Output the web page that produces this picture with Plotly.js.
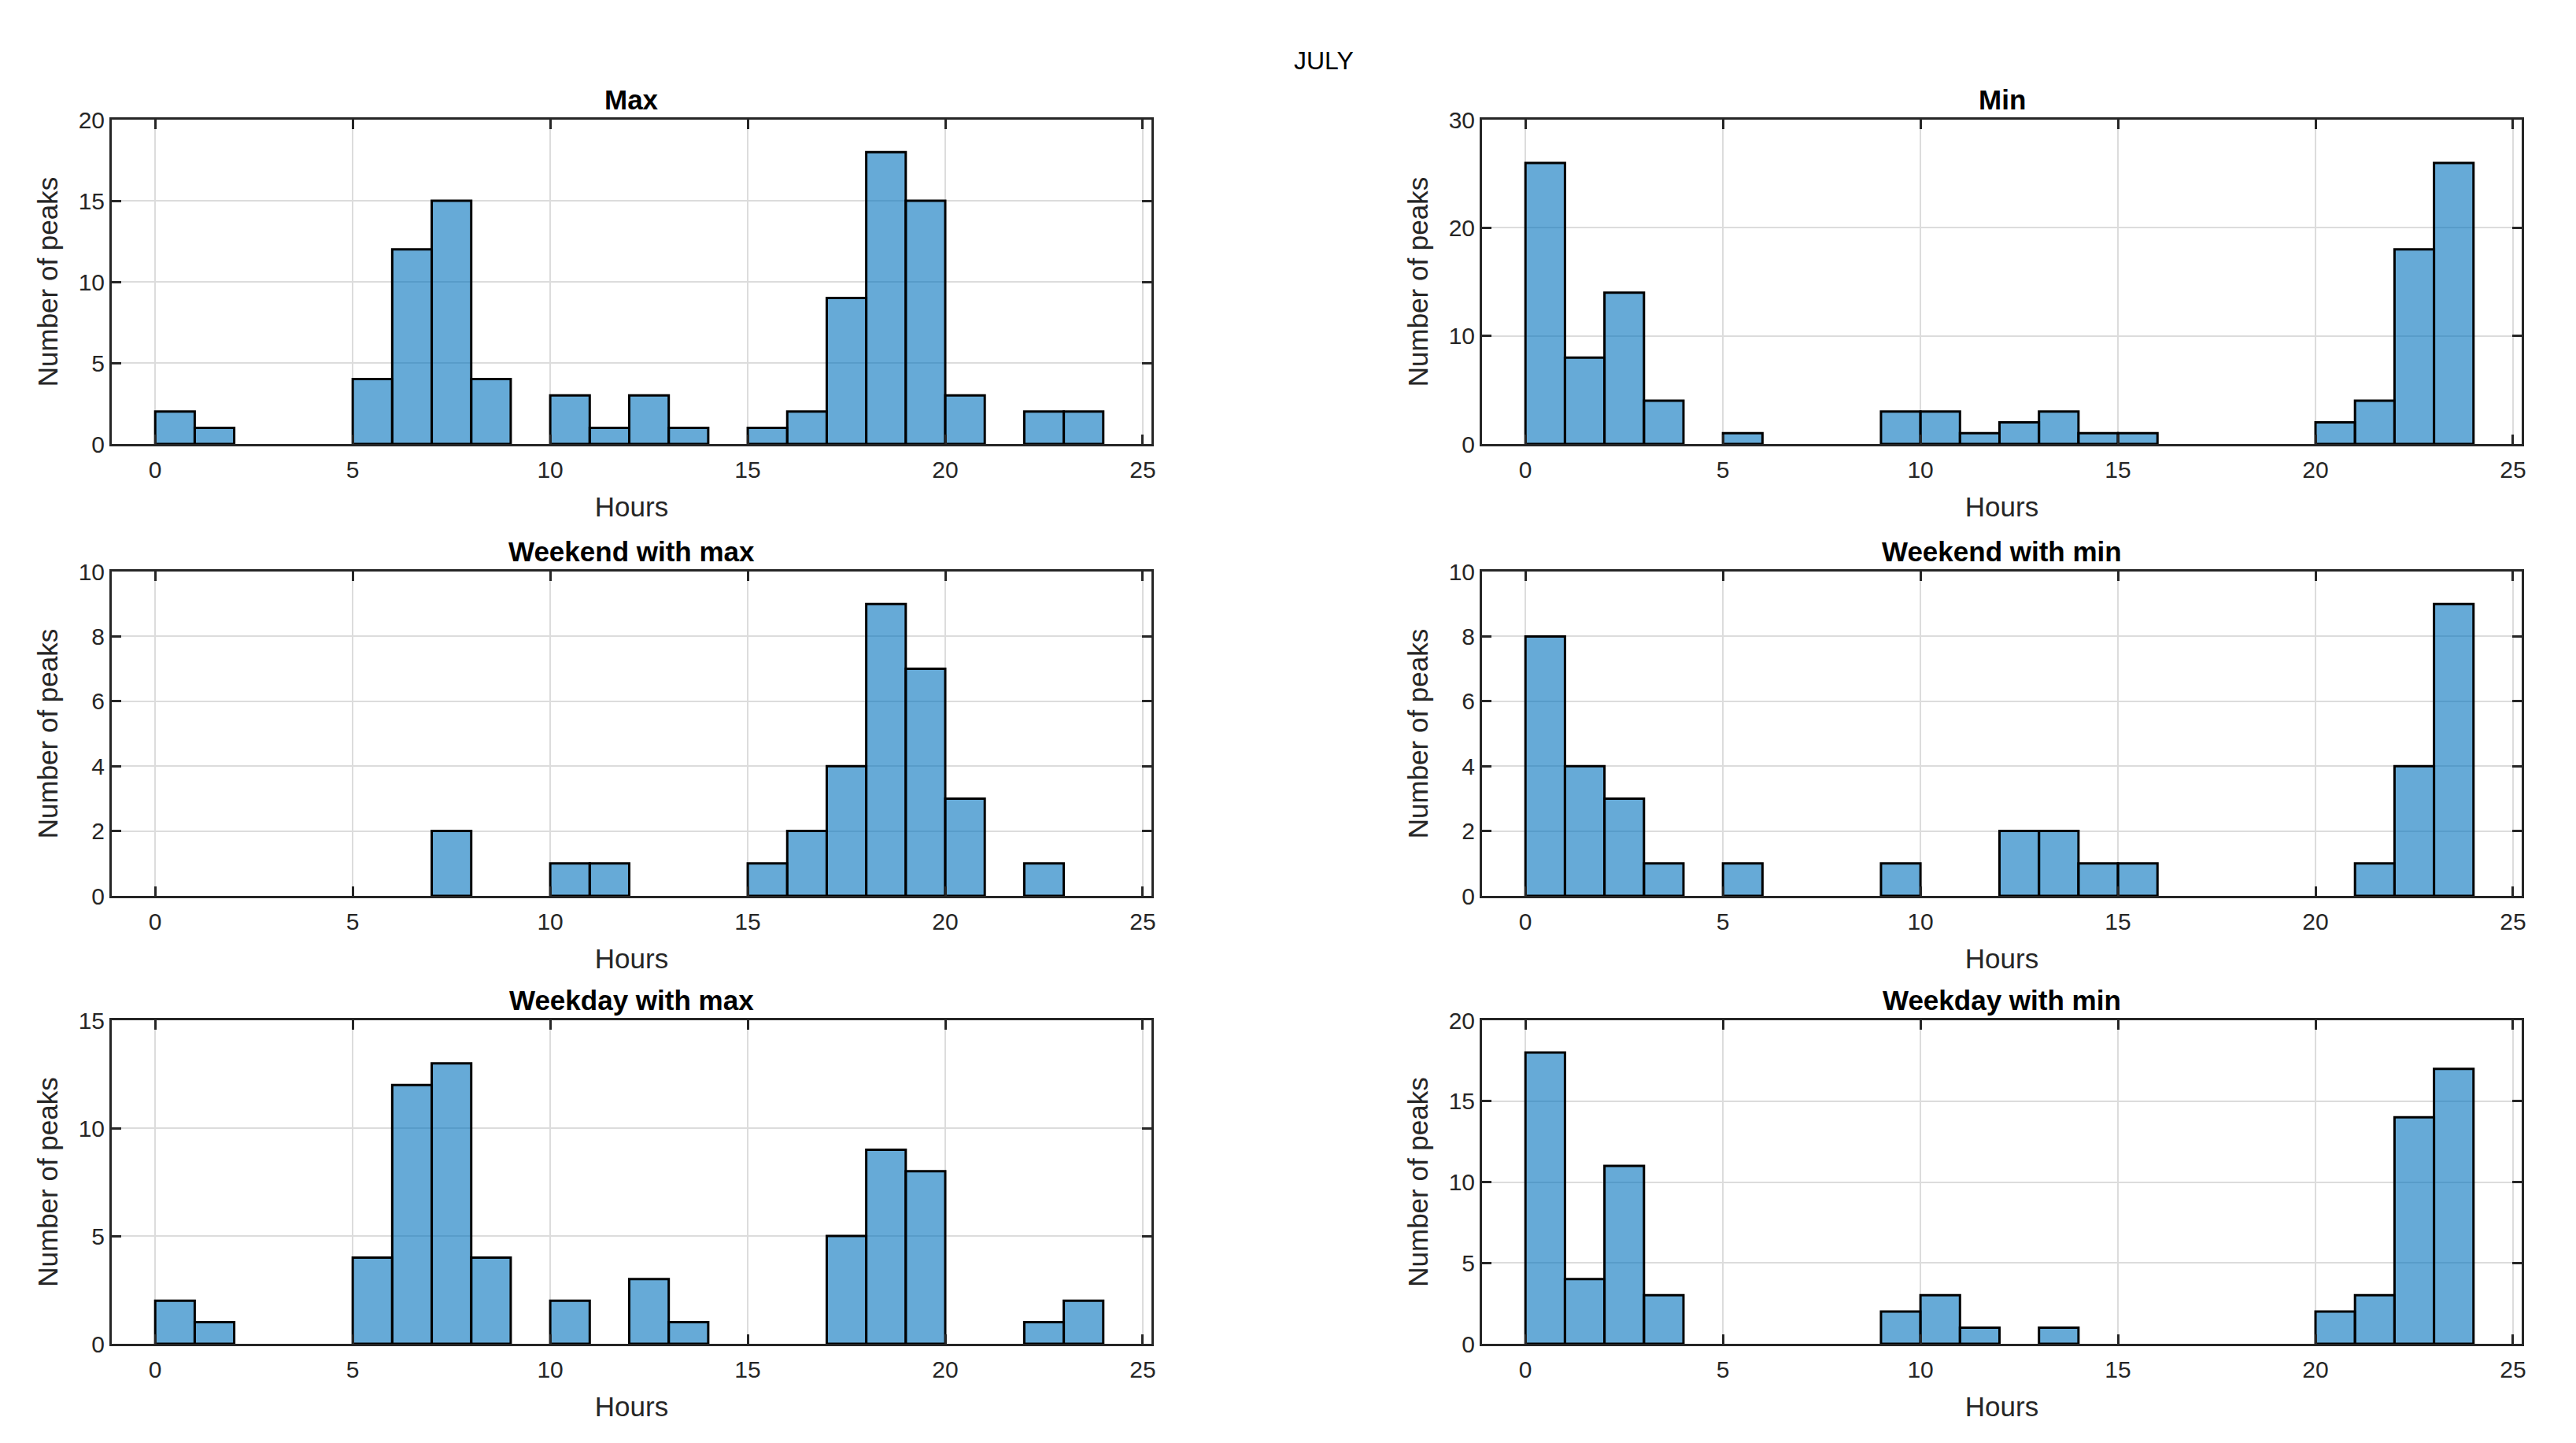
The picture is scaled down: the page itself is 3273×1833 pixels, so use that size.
<!DOCTYPE html>
<html>
<head>
<meta charset="utf-8">
<script src="https://cdn.plot.ly/plotly-3.0.1.min.js"></script>
<style>html,body{margin:0;padding:0;background:#fff;}#chart{width:3273px;height:1833px;}</style>
</head>
<body>
<div id="chart"></div>
<script>
const hours = [0,1,2,3,4,5,6,7,8,9,10,11,12,13,14,15,16,17,18,19,20,21,22,23];
const maxCounts        = [2,1,0,0,0,4,12,15,4,0,3,1,3,1,0,1,2,9,18,15,3,0,2,2];
const minCounts        = [26,8,14,4,0,1,0,0,0,3,3,1,2,3,1,1,0,0,0,0,2,4,18,26];
const weekendMaxCounts = [0,0,0,0,0,0,0,2,0,0,1,1,0,0,0,1,2,4,9,7,3,0,1,0];
const weekendMinCounts = [8,4,3,1,0,1,0,0,0,1,0,0,2,2,1,1,0,0,0,0,0,1,4,9];
const weekdayMaxCounts = [2,1,0,0,0,4,12,13,4,0,2,0,3,1,0,0,0,5,9,8,0,0,1,2];
const weekdayMinCounts = [18,4,11,3,0,0,0,0,0,2,3,1,0,1,0,0,0,0,0,0,2,3,14,17];
const panelTitles = ["Max","Min","Weekend with max","Weekend with min","Weekday with max","Weekday with min"];
const xTickVals = [0,5,10,15,20,25];
const xLabel = "Hours";
const yLabel = "Number of peaks";
const mainTitle = "JULY";

const series = [maxCounts, minCounts, weekendMaxCounts, weekendMinCounts, weekdayMaxCounts, weekdayMinCounts];
const yRanges = [[0,20],[0,30],[0,10],[0,10],[0,15],[0,20]];
const yDtick = [5,10,2,2,5,5];

const W = 3273, H = 1833;
const xDomains = [[142/W, 1463/W], [1883/W, 3204/W]];
const rowPx = [[152,564],[726,1138],[1296,1707]];
const yDomains = rowPx.map(r => [1 - r[1]/H, 1 - r[0]/H]);

const font = "Liberation Sans, Arial, Helvetica, sans-serif";
const traces = [];
const layout = {
  width: W, height: H,
  margin: {l:0, r:0, t:0, b:0},
  paper_bgcolor: "#ffffff", plot_bgcolor: "#ffffff",
  showlegend: false,
  font: {family: font, color: "#262626", size: 30},
  bargap: 0,
  annotations: [{
    text: mainTitle, xref: "paper", yref: "paper", x: 0.514, y: 1 - 77/H,
    xanchor: "center", yanchor: "middle", showarrow: false,
    font: {family: font, size: 32, color: "#000"}
  }]
};

series.forEach((vals, i) => {
  const col = i % 2, row = Math.floor(i / 2);
  const n = i + 1;
  const xa = n === 1 ? "x" : "x" + n;
  const ya = n === 1 ? "y" : "y" + n;
  traces.push({
    type: "bar", x: hours, y: vals.map(v => v === 0 ? null : v), xaxis: xa, yaxis: ya,
    offset: 0, width: 1,
    marker: {color: "rgba(0,114,189,0.6)", line: {color: "#000000", width: 3}},
    hoverinfo: "x+y"
  });
  const axCommon = {
    showline: true, linecolor: "#262626", linewidth: 3, mirror: "ticks",
    ticks: "inside", ticklen: 12, tickwidth: 3, tickcolor: "#262626",
    showgrid: true, gridcolor: "#dcdcdc", gridwidth: 2, zeroline: false,
    tickfont: {family: font, size: 30, color: "#262626"}
  };
  layout["xaxis" + (n === 1 ? "" : n)] = Object.assign({}, axCommon, {
    domain: xDomains[col], anchor: ya, range: [-1.1, 25.22],
    tickmode: "array", tickvals: xTickVals, ticklabelstandoff: 4,
    title: {text: xLabel, font: {family: font, size: 35, color: "#262626"}, standoff: 20}
  });
  layout["yaxis" + (n === 1 ? "" : n)] = Object.assign({}, axCommon, {
    domain: yDomains[row], anchor: xa, range: yRanges[i],
    tick0: 0, dtick: yDtick[i],
    title: {text: yLabel, font: {family: font, size: 35, color: "#262626"}, standoff: 16}
  });
  layout.annotations.push({
    text: "<b>" + panelTitles[i] + "</b>", xref: "paper", yref: "paper",
    x: (xDomains[col][0] + xDomains[col][1]) / 2, y: yDomains[row][1],
    xanchor: "center", yanchor: "bottom", yshift: 4, showarrow: false,
    font: {family: font, size: 35, color: "#000"}
  });
});

Plotly.newPlot("chart", traces, layout, {displayModeBar: false, staticPlot: true});
</script>
</body>
</html>
